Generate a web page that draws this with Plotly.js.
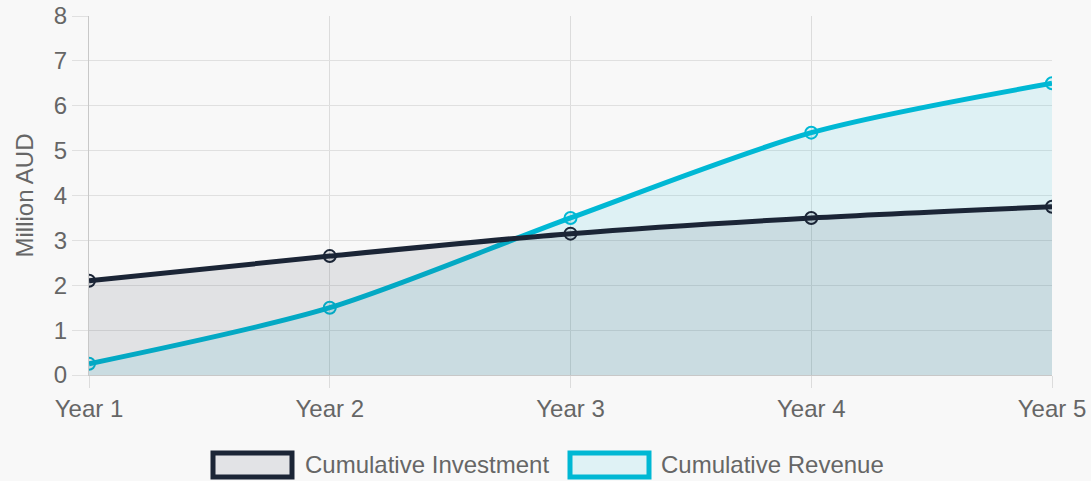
<!DOCTYPE html>
<html>
<head>
<meta charset="utf-8">
<script src="https://cdn.plot.ly/plotly-3.0.1.min.js"></script>
<style>
html,body{margin:0;padding:0;background:#f8f8f8;}
#chart{width:1091px;height:481px;}
</style>
</head>
<body>
<div id="chart"></div>
<script>
const years = ["Year 1", "Year 2", "Year 3", "Year 4", "Year 5"];
const investment = [2.1, 2.65, 3.15, 3.5, 3.75];
const revenue = [0.25, 1.5, 3.5, 5.4, 6.5];
const seriesNames = ["Cumulative Investment", "Cumulative Revenue"];

const W = 1091, H = 481;
const L = 89, R = 39, T = 16, B = 106;
const pw = W - L - R, ph = H - T - B;
const px = v => (v - L) / pw;
const py = v => (H - B - v) / ph;

const navy = "#1b2536";
const cyan = "#00b8d4";
const font = "Liberation Sans, Arial, sans-serif";
const fs = 24;

const traces = [
  {
    x: years, y: revenue, name: seriesNames[1], type: "scatter", mode: "lines+markers",
    line: {color: cyan, width: 5, shape: "spline", smoothing: 0.8},
    fill: "tozeroy", fillcolor: "rgba(0,188,212,0.1)",
    marker: {size: 12, color: "rgba(0,188,212,0.1)", line: {color: cyan, width: 2}},
    showlegend: false, hoverinfo: "skip"
  },
  {
    x: years, y: investment, name: seriesNames[0], type: "scatter", mode: "lines+markers",
    line: {color: navy, width: 5, shape: "spline", smoothing: 0.8},
    fill: "tozeroy", fillcolor: "rgba(30,41,59,0.1)",
    marker: {size: 12, color: "rgba(30,41,59,0.1)", line: {color: navy, width: 2}},
    showlegend: false, hoverinfo: "skip"
  }
];

const legendItems = [
  {x0: 213, x1: 292, tx: 303, color: navy, fill: "#e2e3e6", text: seriesNames[0]},
  {x0: 570, x1: 649, tx: 659, color: cyan, fill: "#dff2f5", text: seriesNames[1]}
];
const shapes = legendItems.map(it => ({
  type: "rect", xref: "paper", yref: "paper",
  x0: px(it.x0), x1: px(it.x1), y0: py(453), y1: py(477),
  line: {color: it.color, width: 5}, fillcolor: it.fill
}));
const annotations = legendItems.map(it => ({
  xref: "paper", yref: "paper", x: px(it.tx), y: py(464),
  xanchor: "left", yanchor: "middle", showarrow: false,
  text: it.text, font: {family: font, size: fs, color: "#666"}
}));

const layout = {
  width: W, height: H,
  margin: {l: L, r: R, t: T, b: B, pad: 0},
  paper_bgcolor: "#f8f8f8", plot_bgcolor: "#f8f8f8",
  font: {family: font, size: fs, color: "#666"},
  xaxis: {
    type: "category", range: [0, 4], showgrid: true, gridcolor: "#dcdcdc", gridwidth: 1,
    showline: true, linecolor: "#c8c8c8", linewidth: 1,
    ticks: "outside", ticklen: 12, tickcolor: "#dcdcdc",
    tickfont: {family: font, size: fs, color: "#666"}, zeroline: false, fixedrange: true
  },
  yaxis: {
    range: [0, 8], dtick: 1, showgrid: true, gridcolor: "#e0e0e0", gridwidth: 1,
    showline: true, linecolor: "#c8c8c8", linewidth: 1,
    ticks: "outside", ticklen: 16, tickcolor: "#e0e0e0",
    tickfont: {family: font, size: fs, color: "#666"}, zeroline: false,
    title: {text: "Million AUD", font: {family: font, size: fs, color: "#666"}, standoff: 13},
    fixedrange: true
  },
  shapes: shapes,
  annotations: annotations,
  showlegend: false
};

Plotly.newPlot("chart", traces, layout, {displayModeBar: false, staticPlot: true});
</script>
</body>
</html>
